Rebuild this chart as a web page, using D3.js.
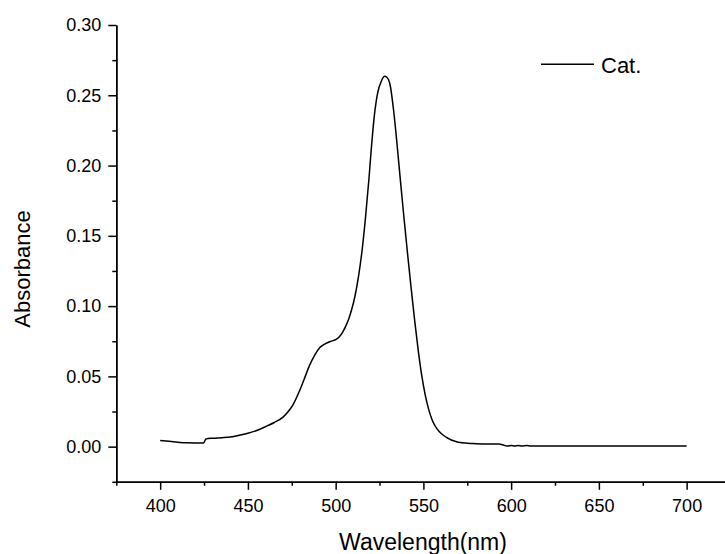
<!DOCTYPE html>
<html>
<head>
<meta charset="utf-8">
<script src="https://cdn.jsdelivr.net/npm/d3@7"></script>
<style>
  body { margin: 0; background: #fff; }
  svg { display: block; font-family: "Liberation Sans", Arial, sans-serif; }
</style>
</head>
<body>
<svg id="chart" width="725" height="554"></svg>
<script>
// absorbance spectrum
const wavelength = [400, 405, 410, 415, 420, 424.8, 426, 430, 435, 440, 445, 450, 455, 460, 465, 470,
  473, 476, 479, 482, 485, 488, 491, 494, 497, 500, 502, 504, 506, 507.5, 509, 511, 513, 515, 517, 519,
  520, 522, 524, 526, 528, 529, 531, 533, 535, 537, 539, 541, 543, 545, 547, 549, 551, 553, 555,
  557, 559, 561, 564, 568, 572, 578, 585, 593, 596, 598, 600, 602, 604, 606, 609, 611, 613, 630,
  660, 700];
const absorbance = [0.0043, 0.0038, 0.0032, 0.0027, 0.0026, 0.0026, 0.0054, 0.0060, 0.0064, 0.0069,
  0.0081, 0.0096, 0.0115, 0.0142, 0.0172, 0.0210, 0.0250, 0.0305, 0.0385, 0.0478, 0.0575, 0.0650,
  0.0705, 0.0732, 0.0748, 0.0762, 0.0780, 0.0815, 0.0865, 0.0910, 0.0970, 0.1070, 0.1210, 0.1390,
  0.1630, 0.1910, 0.2070, 0.2350, 0.2520, 0.2600, 0.2635, 0.2630, 0.2575, 0.2395, 0.2150, 0.1880,
  0.1620, 0.1370, 0.1130, 0.0900, 0.0690, 0.0510, 0.0370, 0.0265, 0.0190, 0.0140, 0.0108, 0.0085,
  0.0060, 0.0038, 0.0027, 0.0022, 0.0019, 0.0019, 0.0010, 0.0004, 0.0008, 0.0004, 0.0009, 0.0005,
  0.0008, 0.0004, 0.0005, 0.0005, 0.0005, 0.0005];
const xTicks = [400, 450, 500, 550, 600, 650, 700];
const xMinor = [375, 425, 475, 525, 575, 625, 675, 725];
const yTicks = [0.00, 0.05, 0.10, 0.15, 0.20, 0.25, 0.30];
const yMinor = [-0.025, 0.025, 0.075, 0.125, 0.175, 0.225, 0.275];
const seriesName = "Cat.";

const svg = d3.select("#chart");

const x = d3.scaleLinear().domain([375, 725]).range([116.3, 730.5]);
const y = d3.scaleLinear().domain([-0.025, 0.30]).range([481.8, 25]);

const axisStyle = (g) => {
  g.selectAll(".domain").attr("stroke", "#000").attr("stroke-width", 1.5);
  g.selectAll(".tick line").attr("stroke", "#000").attr("stroke-width", 1.5);
  g.selectAll(".tick text").attr("fill", "#000").attr("font-size", 18);
};

// minor ticks first, majors on top
svg.append("g")
  .attr("transform", `translate(0,${y(-0.025)})`)
  .call(d3.axisBottom(x).tickValues(xMinor).tickSize(4).tickFormat("").tickSizeOuter(0))
  .call(axisStyle);
svg.append("g")
  .attr("transform", `translate(${x(375)},0)`)
  .call(d3.axisLeft(y).tickValues(yMinor).tickSize(4).tickFormat("").tickSizeOuter(0))
  .call(axisStyle);

svg.append("g")
  .attr("transform", `translate(0,${y(-0.025)})`)
  .call(d3.axisBottom(x).tickValues(xTicks).tickSize(8).tickPadding(9).tickFormat(d3.format("d")).tickSizeOuter(0))
  .call(axisStyle);
svg.append("g")
  .attr("transform", `translate(${x(375)},0)`)
  .call(d3.axisLeft(y).tickValues(yTicks).tickSize(8).tickPadding(7).tickFormat(d3.format(".2f")).tickSizeOuter(0))
  .call(axisStyle);

// the spectrum
const points = wavelength.map((w, i) => [w, absorbance[i]]);
const line = d3.line()
  .x(d => x(d[0]))
  .y(d => y(d[1]))
  .curve(d3.curveMonotoneX);

svg.append("path")
  .datum(points)
  .attr("fill", "none")
  .attr("stroke", "#000")
  .attr("stroke-width", 1.5)
  .attr("d", line);

// axis titles
svg.append("text")
  .attr("x", 423)
  .attr("y", 550)
  .attr("text-anchor", "middle")
  .attr("font-size", 23)
  .text("Wavelength(nm)");

svg.append("text")
  .attr("transform", "translate(30,269) rotate(-90)")
  .attr("text-anchor", "middle")
  .attr("font-size", 22)
  .text("Absorbance");

// legend
const legend = svg.append("g").attr("transform", "translate(541,64.3)");
legend.append("line")
  .attr("x1", 0).attr("x2", 53)
  .attr("stroke", "#000").attr("stroke-width", 1.5);
legend.append("text")
  .attr("x", 60)
  .attr("y", 9)
  .attr("font-size", 22)
  .text(seriesName);
</script>
</body>
</html>
